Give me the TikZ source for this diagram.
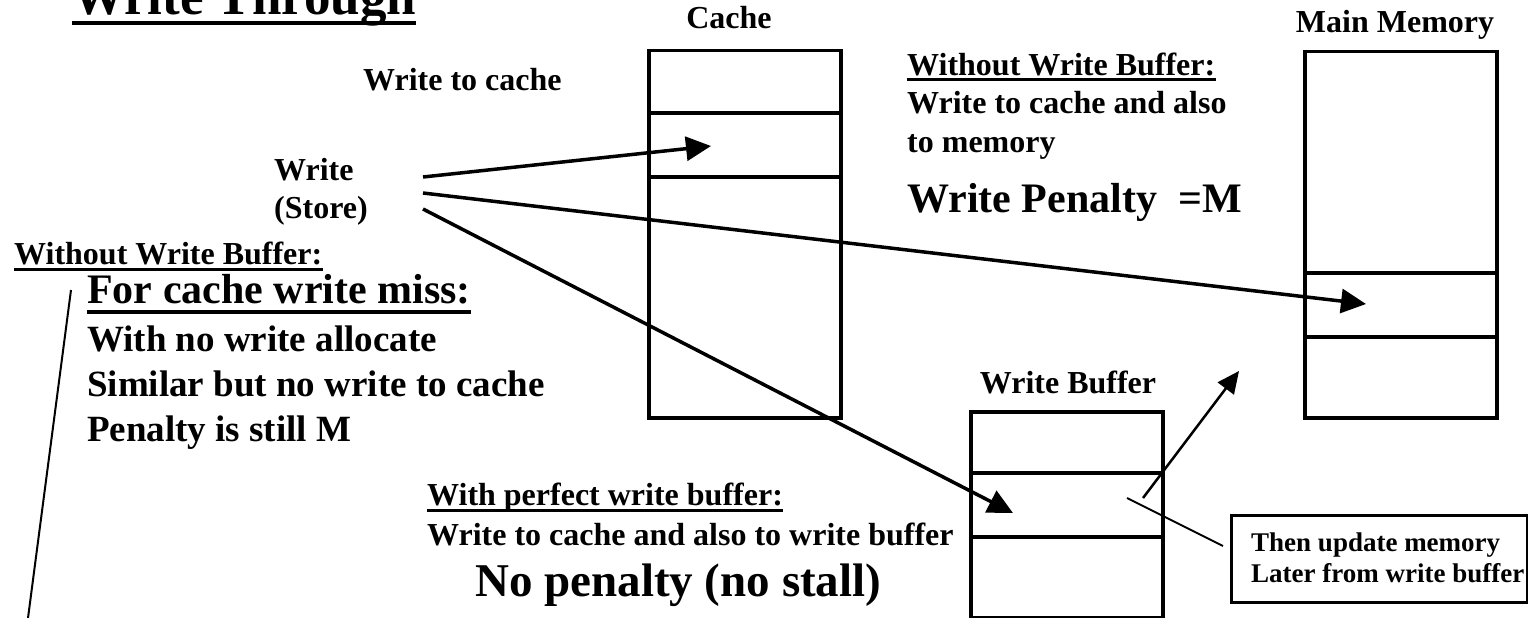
\documentclass[tikz,border=0pt]{standalone}
\usepackage{fontspec}
\setmainfont{Liberation Serif}
\usetikzlibrary{arrows.meta}
\begin{document}
\begin{tikzpicture}[x=1pt,y=-1pt,
  txt/.style={inner sep=0pt, anchor=base west},
  ctxt/.style={inner sep=0pt, anchor=base},
  fs/.style={font=\fontsize{#1}{#1}\selectfont\bfseries},
  box/.style={draw, line width=3.5pt, inner sep=0pt, anchor=north west},
  divider/.style={line width=3.5pt},
  ul/.style={line width=#1},
  bigarrow/.style={line width=3.5pt, -{Triangle[length=25pt,width=24pt]}},
  thinarrow/.style={line width=2.5pt, -{Triangle[length=22pt,width=20pt]}},
  thinline/.style={line width=2pt}]
\useasboundingbox (0,0) rectangle (1528,618);

% title
\node[txt, fs=53] (title) at (72,15) {Write Through};
\draw[ul=4.5pt] ([yshift=-8pt]title.base west) -- ([yshift=-8pt]title.base east);

% labels
\node[txt, fs=32] (wtc) at (363,90) {Write to cache};
\node[ctxt, fs=32] (cachelbl) at (729,29) {Cache};
\node[ctxt, fs=32] (mmlbl) at (1395,33) {Main Memory};
\node[ctxt, fs=32] (wblbl) at (1068,393) {Write Buffer};

\node[txt, fs=32] (write) at (274,180) {Write};
\node[txt, fs=32] (store) at (274,218) {(Store)};

% right text block
\node[txt, fs=32] (rwb) at (907,75) {Without Write Buffer:};
\draw[ul=3pt] ([yshift=-4.5pt]rwb.base west) -- ([yshift=-4.5pt]rwb.base east);
\node[txt, fs=32] (rl1) at (907,113) {Write to cache and also};
\node[txt, fs=32] (rl2) at (907,152) {to memory};
\node[txt, fs=42] (rpen) at (907,212) {Write Penalty~~=M};

% left text block
\node[txt, fs=32] (lwb) at (14,264) {Without Write Buffer:};
\draw[ul=3pt] ([yshift=-5.5pt]lwb.base west) -- ([yshift=-5.5pt]lwb.base east);
\node[txt, fs=42] (miss) at (87,303) {For cache write miss:};
\draw[ul=4pt] ([yshift=-9pt]miss.base west) -- ([yshift=-9pt]miss.base east);
\node[txt, fs=37] (l1) at (87,351) {With no write allocate};
\node[txt, fs=37] (l2) at (87,396) {Similar but no write to cache};
\node[txt, fs=37] (l3) at (87,441) {Penalty is still M};

% bottom text block
\node[txt, fs=32] (pwb) at (427,505) {With perfect write buffer:};
\draw[ul=3pt] ([yshift=-5pt]pwb.base west) -- ([yshift=-5pt]pwb.base east);
\node[txt, fs=32] (pl1) at (427,545) {Write to cache and also to write buffer};
\node[txt, fs=47] (nopen) at (475,596) {No penalty (no stall)};

% boxes
\node[box, minimum width=192pt, minimum height=367pt] (cache) at (647,49) {};
\draw[divider] (647,113) -- (839,113);
\draw[divider] (647,177) -- (839,177);

\node[box, minimum width=192pt, minimum height=366pt] (mem) at (1303,50) {};
\draw[divider] (1303,273) -- (1495,273);
\draw[divider] (1303,337) -- (1495,337);

\node[box, minimum width=192pt, minimum height=206pt] (wbuf) at (969,410) {};
\draw[divider] (969,473) -- (1161,473);
\draw[divider] (969,537) -- (1161,537);

% callout
\node[draw, line width=2.5pt, inner sep=0pt, anchor=north west, minimum width=296pt, minimum height=87pt] (callout) at (1230,514) {};
\node[txt, fs=27] (c1) at (1251,551) {Then update memory};
\node[txt, fs=27] (c2) at (1251,582) {Later from write buffer};

% connector coordinates
\coordinate (s1) at (423,177);
\coordinate (s2) at (423,193);
\coordinate (s3) at (423,209);
\coordinate (tcache) at (711,146);
\coordinate (tmem) at (1366,304);
\coordinate (twb) at (1013,513);
\coordinate (upstart) at (1143,498);
\coordinate (uptip) at (1239,371);
\coordinate (callin) at (1127,498);
\coordinate (callout-w) at (1223,546);
\coordinate (slanttop) at (71,290);
\coordinate (slantbot) at (28,618);

\draw[bigarrow] (s1) -- (tcache);
\draw[bigarrow] (s2) -- (tmem);
\draw[bigarrow] (s3) -- (twb);
\draw[thinarrow] (upstart) -- (uptip);
\draw[thinline] (callin) -- (callout-w);
\draw[thinline] (slanttop) -- (slantbot);
\end{tikzpicture}
\end{document}
